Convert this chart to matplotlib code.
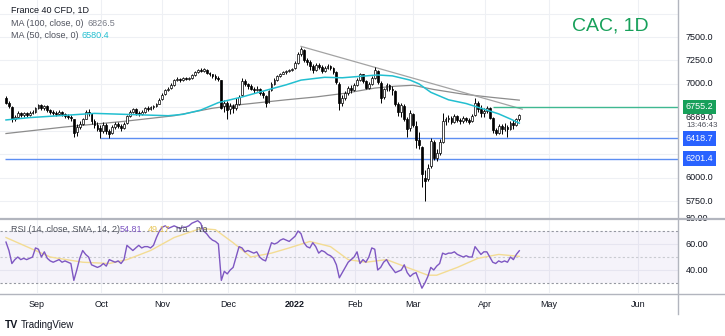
import matplotlib.pyplot as plt
from matplotlib.lines import Line2D
from matplotlib.transforms import blended_transform_factory

plt.rcParams['font.family'] = ['Liberation Sans', 'DejaVu Sans']

W, H = 725, 336

# daily bars, bar 0 = 18 Aug 2021, last bar = 20 Apr 2022
opens = [6850, 6800, 6750, 6630, 6650, 6690, 6665, 6690, 6670, 6690,
         6700, 6740, 6770, 6745, 6760, 6720, 6700, 6690, 6680, 6700,
         6680, 6660, 6650, 6620, 6490, 6540, 6570, 6630, 6700, 6680,
         6600, 6560, 6530, 6500, 6560, 6500, 6480, 6540, 6570, 6555,
         6530, 6580, 6660, 6700, 6730, 6690, 6680, 6700, 6740, 6730,
         6750, 6760, 6790, 6840, 6890, 6930, 6960, 6990, 7040, 7050,
         7040, 7060, 7055, 7060, 7090, 7130, 7150, 7140, 7150, 7120,
         7100, 7080, 7060, 7040, 6760, 6800, 6730, 6760, 6740, 6790,
         6880, 7030, 7000, 6980, 6950, 6930, 6950, 6900, 6870, 6810,
         6930, 7000, 7040, 7080, 7110, 7125, 7140, 7150, 7170, 7220,
         7320, 7360, 7250, 7230, 7190, 7150, 7200, 7180, 7140, 7170,
         7190, 7170, 7130, 7000, 6800, 6850, 6900, 6960, 6930, 6990,
         7040, 7100, 7030, 6960, 7000, 7060, 7140, 7010, 6860, 6940,
         6990, 6950, 6920, 6790, 6700, 6760, 6620, 6530, 6680, 6550,
         6400, 6330, 6000, 5980, 6120, 6380, 6210, 6260, 6380, 6600,
         6620, 6640, 6590, 6660, 6610, 6600, 6640, 6610, 6600, 6670,
         6800, 6730, 6690, 6710, 6740, 6640, 6510, 6480, 6550, 6520,
         6540, 6520, 6580, 6560, 6620]
highs = [6870, 6815, 6760, 6670, 6710, 6705, 6700, 6700, 6710, 6720,
         6755, 6790, 6780, 6775, 6770, 6735, 6720, 6710, 6720, 6710,
         6690, 6680, 6670, 6630, 6570, 6600, 6640, 6720, 6730, 6690,
         6620, 6590, 6560, 6590, 6580, 6520, 6560, 6590, 6590, 6570,
         6590, 6670, 6720, 6745, 6740, 6710, 6720, 6755, 6760, 6765,
         6775, 6800, 6850, 6900, 6950, 6970, 7010, 7050, 7070, 7060,
         7075, 7070, 7075, 7100, 7140, 7160, 7165, 7170, 7160, 7130,
         7110, 7100, 7080, 7045, 6830, 6820, 6800, 6790, 6850, 6880,
         7060, 7050, 7010, 7000, 6970, 6980, 6960, 6920, 6880, 6930,
         7020, 7060, 7090, 7120, 7140, 7150, 7160, 7170, 7240, 7340,
         7395, 7370, 7280, 7250, 7210, 7220, 7220, 7200, 7190, 7210,
         7200, 7180, 7140, 7020, 6880, 6920, 6980, 6990, 7010, 7060,
         7115, 7110, 7040, 7020, 7080, 7175, 7150, 7030, 6960, 7010,
         7000, 6980, 6930, 6810, 6800, 6780, 6650, 6720, 6690, 6600,
         6490, 6340, 6080, 6150, 6420, 6400, 6300, 6410, 6690, 6650,
         6670, 6660, 6680, 6670, 6640, 6660, 6650, 6640, 6680, 6850,
         6820, 6770, 6740, 6760, 6750, 6650, 6530, 6570, 6570, 6580,
         6560, 6600, 6610, 6640, 6680]
lows = [6790, 6740, 6590, 6600, 6640, 6650, 6650, 6650, 6660, 6675,
        6690, 6730, 6720, 6725, 6700, 6680, 6670, 6660, 6670, 6660,
        6640, 6630, 6600, 6430, 6440, 6520, 6560, 6620, 6660, 6570,
        6530, 6500, 6419, 6480, 6470, 6425, 6460, 6520, 6530, 6500,
        6520, 6570, 6650, 6690, 6670, 6660, 6670, 6690, 6715, 6720,
        6735, 6750, 6780, 6830, 6880, 6920, 6950, 6980, 7030, 7020,
        7035, 7040, 7045, 7050, 7085, 7120, 7125, 7130, 7100, 7080,
        7060, 7040, 7030, 6730, 6700, 6620, 6680, 6690, 6720, 6770,
        6870, 6980, 6950, 6930, 6900, 6920, 6880, 6850, 6750, 6800,
        6920, 6990, 7030, 7070, 7100, 7110, 7125, 7140, 7160, 7210,
        7300, 7230, 7200, 7150, 7120, 7140, 7160, 7120, 7130, 7160,
        7150, 7110, 7000, 6720, 6760, 6830, 6880, 6900, 6920, 6980,
        7030, 7010, 6940, 6950, 6990, 7050, 7000, 6800, 6840, 6920,
        6920, 6880, 6760, 6660, 6650, 6600, 6430, 6500, 6540, 6320,
        6300, 5900, 5755, 5960, 6100, 6190, 6180, 6240, 6370, 6560,
        6590, 6570, 6580, 6590, 6570, 6580, 6590, 6570, 6590, 6660,
        6700, 6650, 6650, 6690, 6620, 6480, 6450, 6470, 6460, 6500,
        6430, 6510, 6520, 6550, 6600]
closes = [6800, 6760, 6620, 6650, 6690, 6670, 6685, 6670, 6690, 6700,
          6740, 6770, 6745, 6760, 6720, 6700, 6690, 6680, 6700, 6680,
          6660, 6650, 6640, 6480, 6540, 6570, 6620, 6700, 6690, 6600,
          6560, 6520, 6500, 6560, 6500, 6470, 6540, 6570, 6555, 6530,
          6570, 6660, 6700, 6730, 6690, 6680, 6700, 6740, 6730, 6750,
          6760, 6780, 6830, 6880, 6930, 6950, 6990, 7040, 7050, 7040,
          7060, 7055, 7060, 7090, 7130, 7150, 7140, 7155, 7120, 7100,
          7080, 7060, 7050, 6740, 6800, 6720, 6760, 6740, 6780, 6860,
          7030, 7000, 6980, 6950, 6930, 6950, 6900, 6880, 6800, 6920,
          7000, 7040, 7080, 7110, 7125, 7140, 7150, 7160, 7220, 7320,
          7370, 7250, 7230, 7190, 7150, 7200, 7180, 7140, 7170, 7190,
          7170, 7130, 7020, 6800, 6850, 6900, 6960, 6930, 6990, 7040,
          7100, 7030, 6960, 7000, 7060, 7150, 7020, 6850, 6940, 6990,
          6950, 6930, 6790, 6700, 6770, 6630, 6520, 6690, 6560, 6400,
          6350, 6040, 5960, 6100, 6390, 6210, 6260, 6380, 6600, 6620,
          6640, 6590, 6660, 6610, 6600, 6640, 6610, 6590, 6660, 6800,
          6730, 6690, 6710, 6740, 6640, 6510, 6480, 6550, 6520, 6540,
          6520, 6580, 6560, 6620, 6669]

# moving averages (bar index, value)
ma50_idx = [0, 8, 18, 30, 45, 55, 60, 66, 72, 80, 88, 95, 100, 108, 114,
            120, 126, 131, 137, 140, 144, 150, 156, 162, 167, 171, 174]
ma50_val = [6615, 6640, 6660, 6685, 6670, 6660, 6675, 6720, 6800, 6860,
            6930, 6990, 7040, 7070, 7065, 7080, 7095, 7085, 7040, 7000,
            6910, 6830, 6790, 6730, 6680, 6625, 6580.4]
ma100_idx = [0, 20, 40, 57, 70, 80, 95, 105, 115, 125, 132, 138, 145,
             155, 165, 174]
ma100_val = [6470, 6540, 6600, 6660, 6740, 6780, 6830, 6860, 6900, 6955,
             6975, 6985, 6940, 6890, 6855, 6826.5]

trend_idx = [100, 175]
trend_val = [7400, 6730]

# RSI(14) and its SMA(14)
rsi = [61.5, 55, 45, 48, 50, 48, 49, 48, 49, 50,
       57, 56, 50, 54, 49, 47, 46, 47, 48, 46,
       47, 46, 45, 32, 40, 49, 55, 52, 50, 44,
       43, 42, 43, 45, 43, 48, 47, 46, 47, 45,
       48, 59, 57, 55, 57, 59, 57, 58, 58, 57,
       59, 65, 70, 73, 74, 72, 73, 74, 73, 72,
       73, 73, 74, 76, 77, 78, 76, 70, 68, 65,
       63, 62, 60, 32, 39, 37, 40, 42, 50, 58,
       57, 54, 55, 54, 53, 54, 50, 48, 47, 54,
       61, 60, 61, 63, 64, 63, 62, 64, 66, 70,
       68, 61, 58, 57, 61, 58, 53, 55, 54, 52,
       51, 49, 44, 34, 38, 42, 46, 48, 50, 54,
       45, 48, 46, 50, 57, 56, 40, 42, 46, 48,
       44, 41, 38, 39, 40, 44, 38, 35, 37, 38,
       32, 26, 30, 35, 42, 40, 43, 45, 53, 52,
       53, 53, 54, 52, 51, 50, 51, 50, 50, 58,
       55, 52, 54, 54, 50, 46, 45, 47, 46, 47,
       46, 50, 48, 52, 54.81]
rsi_ma_idx = [0, 15, 26, 35, 41, 49, 57, 66, 71, 77, 83, 90, 96, 103, 110,
              116, 122, 129, 136, 143, 146, 153, 160, 167, 174]
rsi_ma_val = [65, 50, 46, 45, 48, 55, 65, 72, 71, 61, 50, 53, 57, 62, 58,
              48, 46, 48, 42, 36, 36, 42, 49, 52, 50.5]

month_pos = [10.5, 32.3, 53, 75.3, 98, 118.3, 138, 162.4, 184, 214.2]
month_lab = ['Sep', 'Oct', 'Nov', 'Dec', '2022', 'Feb', 'Mar', 'Apr', 'May', 'Jun']
price_grid = [5750, 6000, 6250, 6500, 6750, 7000, 7250, 7500, 7750]
price_lab = [7500, 7250, 7000, 6000, 5750]

support_hi, support_hi_start = 6418.7, 32
support_lo, support_lo_start = 6201.4, -0.3
resist, resist_start = 6755.2, 165
last_price = 6669.0

GRID = '#eef0f4'
AXIS = '#b2b5be'
TXT = '#131722'
CYAN = '#22bfd0'
PURPLE = '#7e57c2'
YELLOW = '#f3dc93'
BLUE = '#2962ff'
GREEN = '#17a05a'


def fx(x):
    return x / W


def fy(y):
    return 1 - y / H


fig = plt.figure(figsize=(W / 100, H / 100), dpi=100)
fig.patch.set_facecolor('white')

ax = fig.add_axes([0, fy(218), fx(678), 218 / H])
ar = fig.add_axes([0, fy(293), fx(678), 73 / H], sharex=ax)

xmin, xmax = -2.03, 227.8
ax.set_xlim(xmin, xmax)
ax.set_ylim(5568.7, 7894.8)
ar.set_ylim(22.3, 78.5)

for a in (ax, ar):
    for s in a.spines.values():
        s.set_visible(False)
    a.tick_params(left=False, right=False, labelleft=False, length=0)
    for m in month_pos:
        a.axvline(m, color=GRID, lw=0.8, zorder=0)
ax.tick_params(labelbottom=False, bottom=False)
for p in price_grid:
    ax.axhline(p, color=GRID, lw=0.8, zorder=0)
for p in (40, 60):
    ar.axhline(p, color=GRID, lw=0.8, zorder=0)

# candles
idx = list(range(len(closes)))
for i in idx:
    o, hi, lo, c = opens[i], highs[i], lows[i], closes[i]
    ax.vlines(i, lo, hi, color='black', lw=0.7, zorder=3)
    body = max(abs(c - o), 6)
    ax.bar(i, body, bottom=min(o, c), width=0.62,
           color='white' if c >= o else 'black',
           edgecolor='black', linewidth=0.5, zorder=4)

ax.plot(ma100_idx, ma100_val, color='#8c8c8c', lw=0.9, zorder=2)
ax.plot(ma50_idx, ma50_val, color=CYAN, lw=1.1, zorder=5)
ax.plot(trend_idx, trend_val, color='#a3a3a3', lw=0.9, zorder=2)

ax.hlines(support_hi, support_hi_start, xmax, color='#5d8ef2', lw=1.0, zorder=2)
ax.hlines(support_lo, support_lo_start, xmax, color='#5d8ef2', lw=1.0, zorder=2)
ax.hlines(resist, resist_start, xmax, color='#3fb891', lw=1.0, zorder=2)

# RSI pane
ar.axhspan(30, 70, color=PURPLE, alpha=0.07, lw=0, zorder=0)
for lvl, col in ((70, '#9598a1'), (50, '#c9cbd1'), (30, '#9598a1')):
    ar.axhline(lvl, color=col, lw=0.8, ls=(0, (2, 2)), zorder=1)
ar.plot(rsi_ma_idx, rsi_ma_val, color=YELLOW, lw=1.0, zorder=2)
ar.plot(idx, rsi, color=PURPLE, lw=1.0, zorder=3)

ar.set_xticks(month_pos)
ar.set_xticklabels(month_lab, fontsize=6.5, color=TXT)
ar.tick_params(axis='x', pad=5, length=0)
for lab in ar.get_xticklabels():
    if lab.get_text() == '2022':
        lab.set_fontweight('bold')

# price scale
tr = blended_transform_factory(ax.transAxes, ax.transData)
lx = 686 / 678
for p in price_lab:
    ax.text(lx, p, f'{p:.1f}', transform=tr, fontsize=6.5, color=TXT,
            va='center', ha='left', clip_on=False, zorder=1)


def tag(price, text, face):
    ax.text(lx, price, text, transform=tr, fontsize=6.5, color='white',
            va='center', ha='left', clip_on=False, zorder=10,
            bbox=dict(boxstyle='square,pad=0.3', fc=face, ec='none'))


# last price and bar countdown sit just under the resistance tag
ax.text(lx, last_price - 25, f'{last_price:.1f}', transform=tr, fontsize=6.5,
        color=TXT, va='center', ha='left', clip_on=False, zorder=9)
ax.text(lx, last_price - 112, '13:46:43', transform=tr, fontsize=5.8,
        color='#50535e', va='center', ha='left', clip_on=False, zorder=9)
tag(resist, f'{resist:.1f}', GREEN)
tag(support_hi, f'{support_hi:.1f}', BLUE)
tag(support_lo, f'{support_lo:.1f}', BLUE)

trr = blended_transform_factory(ar.transAxes, ar.transData)
for p in (80, 60, 40):
    ar.text(lx, p, f'{p:.2f}', transform=trr, fontsize=6.5, color=TXT,
            va='center', ha='left', clip_on=False)

# frame lines
fig.add_artist(Line2D([fx(678), fx(678)], [fy(0), fy(314)], color=AXIS, lw=1.0))
fig.add_artist(Line2D([0, 1], [fy(219), fy(219)], color=AXIS, lw=1.6))
fig.add_artist(Line2D([0, 1], [fy(293.5), fy(293.5)], color=AXIS, lw=1.0))

# legends
fig.text(fx(11), fy(10), 'France 40 CFD, 1D', fontsize=6.5, color=TXT, va='center')
fig.text(fx(11), fy(23), 'MA (100, close, 0)', fontsize=6.5, color='#50535e', va='center')
fig.text(fx(87), fy(23), '6826.5', fontsize=6.5, color='#787b86', va='center')
fig.text(fx(11), fy(36), 'MA (50, close, 0)', fontsize=6.5, color='#50535e', va='center')
fig.text(fx(82), fy(36), '6580.4', fontsize=6.5, color=CYAN, va='center')

fig.text(fx(11), fy(230), 'RSI (14, close, SMA, 14, 2)', fontsize=6.5, color='#50535e', va='center')
fig.text(fx(120), fy(230), '54.81', fontsize=6.5, color=PURPLE, va='center')
fig.text(fx(148), fy(230), '49.17', fontsize=6.5, color='#e8c65a', va='center')
fig.text(fx(175), fy(230), 'n/a', fontsize=6.5, color='#50535e', va='center')
fig.text(fx(195), fy(230), 'n/a', fontsize=6.5, color='#50535e', va='center')

fig.text(fx(572), fy(26), 'CAC, 1D', fontsize=14, color=GREEN, va='center')

fig.text(fx(5), fy(325), 'TV', fontsize=7.5, color=TXT, fontweight='bold', va='center')
fig.text(fx(21), fy(325), 'TradingView', fontsize=7, color=TXT, va='center')

fig.savefig('out.png', dpi=100, facecolor='white')
